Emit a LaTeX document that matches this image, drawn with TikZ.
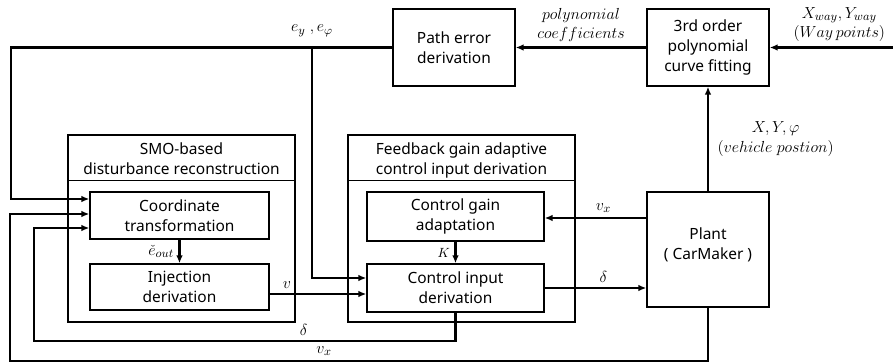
\documentclass[tikz,border=0pt]{standalone}
\usepackage{amsmath}
\usepackage{fontspec}
\setmainfont{Noto Sans}
\usetikzlibrary{positioning, arrows.meta, calc}

\begin{document}
\begin{tikzpicture}[
                x=0.75pt, y=-0.75pt,
                font=\fontsize{11.6}{15}\selectfont,
                block/.style={draw, line width=1pt, align=center, inner sep=2pt},
                frame/.style={draw, line width=1pt},
                arrow/.style={-{Latex[length=6pt,width=5pt]}, line width=1.7pt},
                sig/.style={font=\fontsize{12.5}{14.5}\selectfont, align=center}
            ]
                \useasboundingbox (0,0) rectangle (893,364);

                % Top row
                \node[block, minimum width=91.5pt, minimum height=57.75pt] (patherr) at (454,47.5) {Path error\\derivation};
                \node[block, minimum width=91.5pt, minimum height=57.75pt] (fitting) at (708,47.5) {3rd order\\polynomial\\curve fitting};

                % Outer frames with titles
                \node[frame, minimum width=170.25pt, minimum height=140.25pt] (smo) at (181.5,228.5) {};
                \node[below=3pt of smo.north, align=center] (smotitle) {SMO-based\\disturbance reconstruction};
                \draw[frame] ($(smo.north west)+(0,46)$) -- ($(smo.north east)+(0,46)$);
                \node[frame, minimum width=170.25pt, minimum height=140.25pt] (fbk) at (461.5,228.5) {};
                \node[below=3pt of fbk.north, align=center] (fbktitle) {Feedback gain adaptive\\control input derivation};
                \draw[frame] ($(fbk.north west)+(0,46)$) -- ($(fbk.north east)+(0,46)$);

                % Inner blocks
                \node[block, minimum width=134.25pt, minimum height=35.25pt] (coord) at (179.5,215.5) {Coordinate\\transformation};
                \node[block, minimum width=134.25pt, minimum height=34.5pt] (inject) at (179.5,287) {Injection\\derivation};
                \node[block, minimum width=132.75pt, minimum height=36.75pt] (cgain) at (455.5,216.5) {Control gain\\adaptation};
                \node[block, minimum width=132.75pt, minimum height=36pt] (cinput) at (455.5,288) {Control input\\derivation};
                \node[block, minimum width=91.5pt, minimum height=86.25pt] (plant) at (708,249.5) {Plant\\( CarMaker )\\[-6pt]};

                % Helper points
                \coordinate (fbx) at (11,0);
                \coordinate (ebr) at (312,0);
                \coordinate (vxbot) at (10,361);
                \coordinate (dbot) at (34,341);
                \coordinate (wayin) at (893,47.5);
                \coordinate (vsrc) at ($(inject.east)+(0,7)$);
                \coordinate (vxsrc) at ($(plant.west)+(0,-31.5)$);

                % Connectors
                \draw[arrow] (fitting) -- node[above, sig] {$polynomial$\\$coefficients$} (patherr);
                \draw[arrow] (wayin) -- node[above, sig, xshift=6pt] {$X_{way}, Y_{way}$\\$(Way\,points)$} (fitting);
                \draw[arrow] (plant) -- node[right=3pt, sig] {$X, Y, \varphi$\\$(vehicle\;postion)$} (fitting);
                \draw[arrow] (patherr.west) -- (patherr.west -| fbx) |- ($(coord.west)+(0,-16.5)$);
                \draw[arrow] (patherr.west -| ebr) node[above=4pt, sig] {$e_y\ ,e_\varphi$} |- ($(cinput.west)+(0,-10)$);
                \draw[arrow] (plant.south) |- node[pos=0.775, above, sig] {$v_x$} (vxbot) |- ($(coord.west)+(0,-1.5)$);
                \draw[arrow] (cinput.south) |- node[pos=0.68, above, sig] {$\delta$} (dbot) |- ($(coord.west)+(0,12.5)$);
                \draw[arrow] (coord) -- node[left, sig] {$\check{e}_{out}$} (inject);
                \draw[arrow] (vsrc) -- node[pos=0.18, above, sig] {$v$} (vsrc -| cinput.west);
                \draw[arrow] (cgain) -- node[left, font=\fontsize{10}{10}\selectfont] {$K$} (cinput);
                \draw[arrow] (vxsrc) -- node[above, sig, xshift=6pt] {$v_x$} (vxsrc -| cgain.east);
                \draw[arrow] (cinput.east) -- node[above, sig, xshift=6pt] {$\delta$} (cinput.east -| plant.west);
            \end{tikzpicture}
\end{document}
